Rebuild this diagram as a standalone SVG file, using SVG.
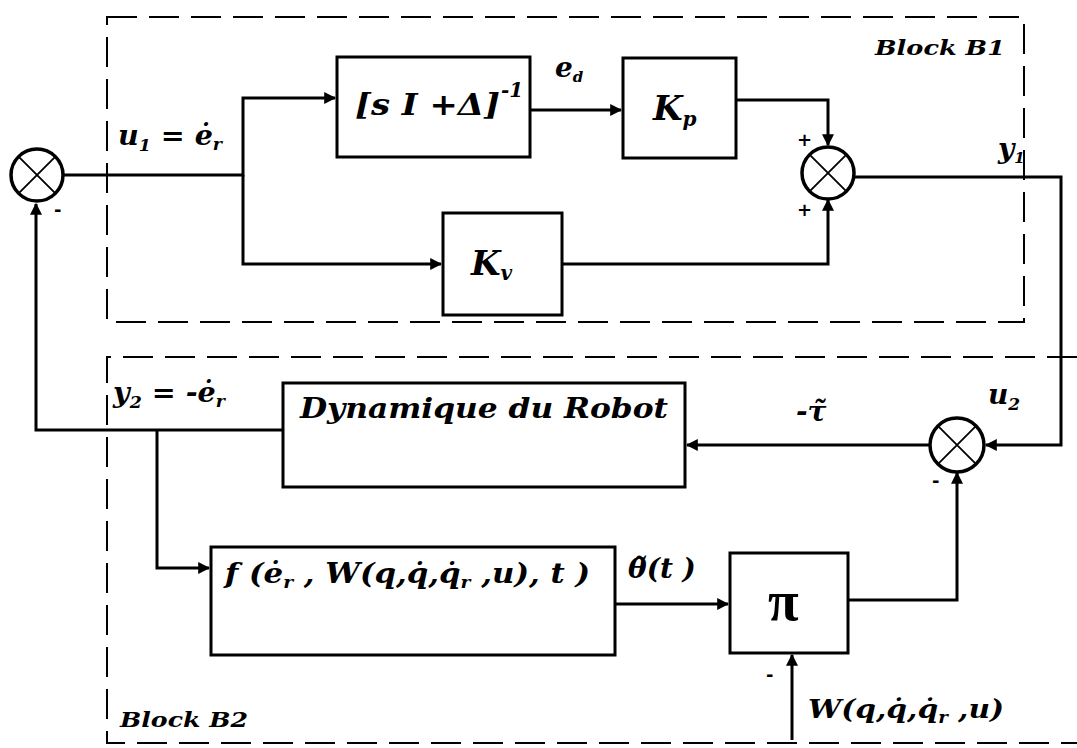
<svg xmlns="http://www.w3.org/2000/svg" width="1077" height="748" viewBox="0 0 1077 748">
<style>
.bx{fill:#fff;stroke:#000;stroke-width:3}
.ln{fill:none;stroke:#000;stroke-width:3}
.ds{fill:none;stroke:#000;stroke-width:2;stroke-dasharray:30,12}
.sum{fill:#fff;stroke:#000;stroke-width:3.5}
.x{stroke:#000;stroke-width:1.8}
.t{font-family:"DejaVu Serif","Liberation Serif",serif;font-weight:bold;font-style:italic;fill:#000}
.s{font-family:"DejaVu Sans",sans-serif;font-weight:bold;fill:#000;font-size:18px}
</style>
<defs>
<marker id="ah" viewBox="0 0 10 10" refX="9" refY="5" markerWidth="4" markerHeight="4" orient="auto" markerUnits="strokeWidth">
<path d="M0,0 L10,5 L0,10 z" fill="#000"/>
</marker>
</defs>
<rect width="1077" height="748" fill="#fff"/>
<g id="blockB1">
<path class="ds" d="M107,17 H1024 V322 H107 Z"/>
<text class="t" x="875" y="55" font-size="21" textLength="130" lengthAdjust="spacingAndGlyphs">Block B1</text>
</g>
<g id="blockB2">
<path class="ds" d="M1077,357 H107 V743 H1077"/>
<text class="t" x="120" y="727" font-size="21" textLength="128" lengthAdjust="spacingAndGlyphs">Block B2</text>
</g>
<g id="connectors">
<path class="ln" d="M64,175 H243 V98 H335" marker-end="url(#ah)"/>
<path class="ln" d="M243,175 V264 H441" marker-end="url(#ah)"/>
<path class="ln" d="M530,110 H621" marker-end="url(#ah)"/>
<path class="ln" d="M736,100 H828 V145" marker-end="url(#ah)"/>
<path class="ln" d="M562,264 H828 V200" marker-end="url(#ah)"/>
<path class="ln" d="M855,177 H1061 V445 H986" marker-end="url(#ah)"/>
<path class="ln" d="M929,445 H687" marker-end="url(#ah)"/>
<path class="ln" d="M283,430 H36 V204" marker-end="url(#ah)"/>
<path class="ln" d="M157,430 V568 H209" marker-end="url(#ah)"/>
<path class="ln" d="M615,604 H728" marker-end="url(#ah)"/>
<path class="ln" d="M848,600 H957 V473" marker-end="url(#ah)"/>
<path class="ln" d="M792,740 V655" marker-end="url(#ah)"/>
</g>
<g id="sum1">
<circle class="sum" cx="37" cy="175" r="26"/>
<path class="x" d="M18.6,156.6 L55.4,193.4 M55.4,156.6 L18.6,193.4"/>
<text class="s" x="54" y="216">-</text>
</g>
<g id="sum2">
<circle class="sum" cx="828" cy="173" r="26"/>
<path class="x" d="M809.6,154.6 L846.4,191.4 M846.4,154.6 L809.6,191.4"/>
<text class="s" x="797" y="146">+</text>
<text class="s" x="797" y="216">+</text>
</g>
<g id="sum3">
<circle class="sum" cx="957" cy="445" r="27"/>
<path class="x" d="M937.9,425.9 L976.1,464.1 M976.1,425.9 L937.9,464.1"/>
<text class="s" x="932" y="487">-</text>
</g>
<g id="inv">
<rect class="bx" x="337" y="57" width="193" height="100"/>
<text class="t" x="355" y="115" font-size="30" textLength="145" lengthAdjust="spacingAndGlyphs">[s I +Δ]</text>
<text class="t" x="501" y="97" font-size="20">-1</text>
</g>
<g id="kp">
<rect class="bx" x="623" y="58" width="113" height="100"/>
<text class="t" x="653" y="120" font-size="34">K<tspan font-size="20" dy="6">p</tspan></text>
</g>
<g id="kv">
<rect class="bx" x="443" y="213" width="119" height="102"/>
<text class="t" x="471" y="275" font-size="34">K<tspan font-size="20" dy="5">v</tspan></text>
</g>
<g id="robot">
<rect class="bx" x="283" y="383" width="402" height="104"/>
<text class="t" x="300" y="418" font-size="28" textLength="368" lengthAdjust="spacingAndGlyphs">Dynamique du Robot</text>
</g>
<g id="ffun">
<rect class="bx" x="211" y="547" width="404" height="108"/>
<text class="t" x="225" y="583" font-size="28" textLength="365" lengthAdjust="spacingAndGlyphs">f (ė<tspan font-size="17" dy="5">r</tspan><tspan dy="-5"> , W(q,q̇,q̇</tspan><tspan font-size="17" dy="5">r</tspan><tspan dy="-5"> ,u), t )</tspan></text>
</g>
<g id="pi">
<rect class="bx" x="730" y="553" width="118" height="100"/>
<text x="768" y="620" font-family="Liberation Serif,serif" font-weight="bold" font-size="56">π</text>
</g>
<g id="labels">
<text class="t" x="118" y="145" font-size="28" textLength="104" lengthAdjust="spacingAndGlyphs">u<tspan font-size="17" dy="6">1</tspan><tspan dy="-6"> = ė</tspan><tspan font-size="17" dy="5">r</tspan></text>
<text class="t" x="555" y="77" font-size="28">e<tspan font-size="15" dy="5">d</tspan></text>
<text class="t" x="998" y="158" font-size="28">y<tspan font-size="15" dy="5">1</tspan></text>
<text class="t" x="113" y="402" font-size="28" textLength="112" lengthAdjust="spacingAndGlyphs">y<tspan font-size="17" dy="6">2</tspan><tspan dy="-6"> = -ė</tspan><tspan font-size="17" dy="5">r</tspan></text>
<text class="t" x="796" y="421" font-size="28">-τ̃</text>
<text class="t" x="988" y="404" font-size="28">u<tspan font-size="17" dy="6">2</tspan></text>
<text class="t" x="628" y="578" font-size="28">θ̃(t )</text>
<text class="t" x="808" y="718" font-size="26" textLength="196" lengthAdjust="spacingAndGlyphs">W(q,q̇,q̇<tspan font-size="16" dy="5">r</tspan><tspan dy="-5"> ,u)</tspan></text>
<text class="s" x="766" y="681">-</text>
</g>
</svg>
